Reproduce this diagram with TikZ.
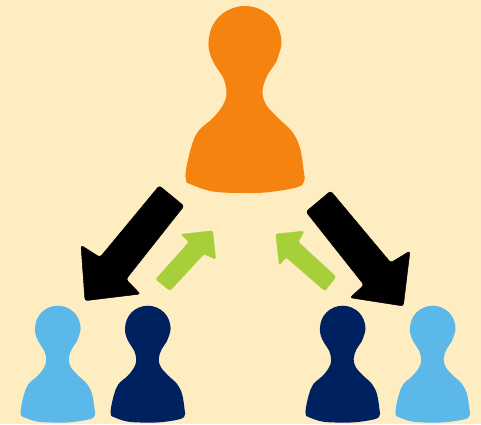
\documentclass[tikz,border=0pt]{standalone}
\definecolor{bgc}{HTML}{FEEDC1}
\definecolor{orangep}{HTML}{F5830F}
\definecolor{lightp}{HTML}{5BB8E9}
\definecolor{navyp}{HTML}{00215F}
\definecolor{greenp}{HTML}{A7CF3A}
\tikzset{
  blackarrow/.style={fill=black,draw=black,line width=0.5pt,rounded corners=2.5pt,line join=round},
  greenarrow/.style={fill=greenp,draw=greenp,line width=0.3pt,rounded corners=1.5pt,line join=round},
}
\newcommand{\pawnshape}[4]{%
  \begin{scope}[shift={(#1,#2)},scale=#3]
  \fill[#4] plot[smooth cycle,tension=0.6] coordinates {
    (0,0) (14,2.8) (26,10.7) (33.7,22.5) (36.5,36.5) (34,48) (30.5,57) (22,70) (17.5,85) (21,98.5) (33,112) (47,125.5)
    (55,142) (59,167) (59.3,174.5) (53,181) (25,186) (0,187) (-32,185.5) (-55,178) (-59,174.5) (-59,164)
    (-54,142) (-47,125.5) (-32,112) (-22,99) (-18.5,87) (-21.5,72.5) (-30,59) (-35,48) (-36.5,36.5) (-33.7,22.5) (-26,10.7) (-14,2.8)
  };
  \end{scope}}
\begin{document}
\begin{tikzpicture}[x=1pt,y=-1pt]
\useasboundingbox (0,0) rectangle (481,424);
\fill[bgc] (0,0) rectangle (481,424);
\pawnshape{245}{6}{1}{orangep}
\pawnshape{57.8}{305.7}{0.625}{lightp}
\pawnshape{147.8}{305.7}{0.625}{navyp}
\pawnshape{342.7}{305.7}{0.625}{navyp}
\pawnshape{432.7}{305.7}{0.625}{lightp}
\draw[blackarrow] (159.3,185.7) -- (184,206) -- (126,279.3) -- (140.3,294) -- (85,300.7) -- (81,245.3) -- (100,257.3) -- cycle;
\draw[blackarrow] (330.7,191) -- (306,211.7) -- (364,285) -- (350,297.7) -- (403.3,306) -- (410,251) -- (390.7,262.7) -- cycle;
\draw[greenarrow] (155.7,279.3) -- (170,290.7) -- (204,254) -- (215.7,259.3) -- (212.7,230.7) -- (181,234.3) -- (189,242) -- cycle;
\draw[greenarrow] (336,276.7) -- (325,291) -- (286,257.3) -- (279.3,265.3) -- (275.7,234) -- (304,231) -- (298.3,242) -- cycle;
\end{tikzpicture}
\end{document}
